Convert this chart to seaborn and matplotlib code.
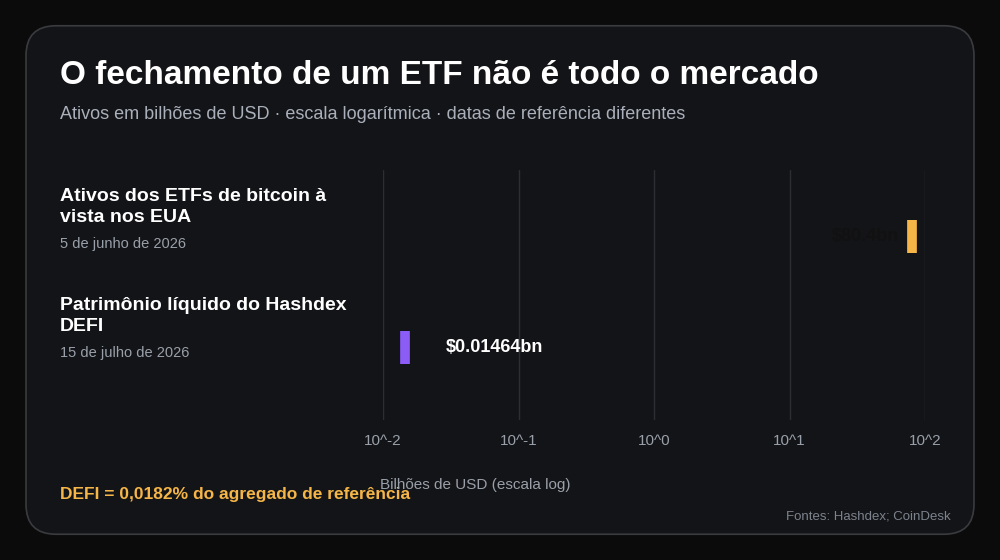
import matplotlib
matplotlib.use("Agg")
import matplotlib.pyplot as plt
import seaborn as sns
import pandas as pd
from matplotlib.patches import FancyBboxPatch

categories = ["Ativos dos ETFs de bitcoin à\nvista nos EUA", "Patrimônio líquido do Hashdex\nDEFI"]
dates = ["5 de junho de 2026", "15 de julho de 2026"]
values = [80.4, 0.01464]
value_labels = ["$80.4bn", "$0.01464bn"]
colors = ["#f5b547", "#8b5cf6"]
tick_vals = [0.01, 0.1, 1, 10, 100]
tick_labels = ["10^-2", "10^-1", "10^0", "10^1", "10^2"]

sns.set_theme(style="dark")
plt.rcParams['font.family'] = ['Liberation Sans', 'DejaVu Sans']

fig = plt.figure(figsize=(10, 5.6), dpi=100, facecolor="#0b0b0b")
card = FancyBboxPatch((0.026, 0.046), 0.948, 0.908, boxstyle="round,pad=0,rounding_size=0.03",
                      transform=fig.transFigure, facecolor="#131417", edgecolor="#3a3b3f", lw=1.2,
                      mutation_aspect=1000/560, zorder=-10)
fig.patches.append(card)

ax = fig.add_axes([0.383, 0.25, 0.542, 0.447])
ax.set_facecolor("none")
ax.set_zorder(5)
df = pd.DataFrame({"cat": categories, "val": values})
sns.barplot(data=df, x="val", y="cat", hue="cat", palette=colors, legend=False, ax=ax,
            width=0.3, log_scale=True)
for p, c in zip(ax.patches, colors):
    p.set_edgecolor(c); p.set_linewidth(7); p.set_joinstyle("round")
ax.set_xlim(0.01, 100)
ax.set_ylim(1.65, -0.6)
ax.set_xticks(tick_vals)
ax.set_xticklabels(tick_labels, color="#9aa0aa", fontsize=11)
ax.minorticks_off()
ax.tick_params(axis="x", length=0, pad=10)
ax.set_yticks([])
ax.set_ylabel("")
ax.set_xlabel("Bilhões de USD (escala log)", color="#9aa0aa", fontsize=11)
ax.xaxis.set_label_coords(0.17, -0.23)
ax.grid(axis="x", color="#2c2e33", lw=1)
for s in ax.spines.values():
    s.set_visible(False)

ax.text(values[0] / 1.25, 0, value_labels[0], ha="right", va="center", color="#111111",
        fontsize=13, fontweight="bold")
ax.text(values[1] * 2.0, 1, value_labels[1], ha="left", va="center", color="white",
        fontsize=13, fontweight="bold")

fig.text(0.06, 0.865, "O fechamento de um ETF não é todo o mercado", color="white",
         fontsize=24, fontweight="bold", va="center")
fig.text(0.06, 0.795, "Ativos em bilhões de USD · escala logarítmica · datas de referência diferentes",
         color="#aab0bb", fontsize=13, va="center")
ys = [0.63, 0.435]
for cat, d, y in zip(categories, dates, ys):
    fig.text(0.06, y, cat, color="white", fontsize=14, fontweight="bold", va="center", linespacing=1.3)
    fig.text(0.06, y - 0.065, d, color="#9aa0aa", fontsize=10.5, va="center")
fig.text(0.06, 0.117, "DEFI = 0,0182% do agregado de referência", color="#f5b547",
         fontsize=12.5, fontweight="bold", va="center")
fig.text(0.951, 0.077, "Fontes: Hashdex; CoinDesk", color="#7d838d", fontsize=9.5,
         ha="right", va="center")

fig.savefig("out.png", dpi=100, facecolor=fig.get_facecolor())
